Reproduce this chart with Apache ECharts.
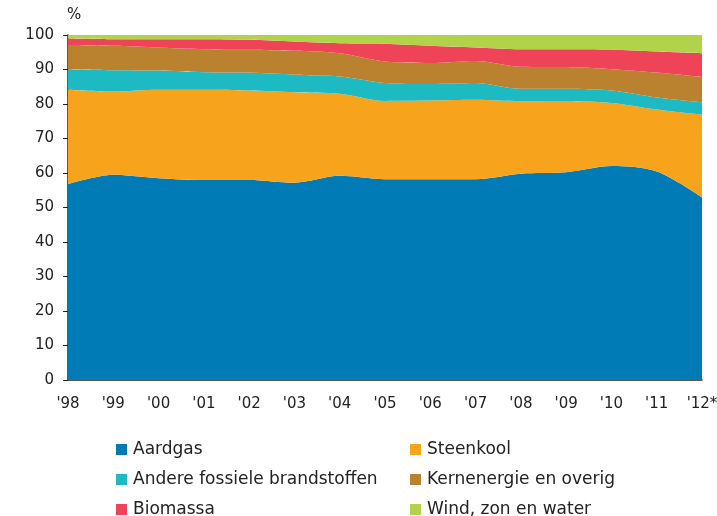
<!DOCTYPE html>
<html>
<head>
<meta charset="utf-8">
<script src="https://cdn.jsdelivr.net/npm/echarts@6/dist/echarts.min.js"></script>
<style>
    html, body { margin: 0; padding: 0; background: #fff; }
    #chart { width: 717px; height: 516px; }
</style>
</head>
<body>
<div id="chart"></div>
<script type="text/javascript">
    // jaren
    var years = ["'98", "'99", "'00", "'01", "'02", "'03", "'04", "'05", "'06", "'07", "'08", "'09", "'10", "'11", "'12*"];

    var aardgas = [56.8, 59.5, 58.5, 58.0, 58.0, 57.2, 59.2, 58.2, 58.2, 58.2, 59.8, 60.2, 62.0, 60.4, 52.9];
    var steenkool = [27.3, 24.1, 25.6, 26.1, 25.9, 26.2, 23.8, 22.7, 22.8, 23.0, 21.0, 20.7, 18.3, 18.0, 24.0];
    var andereFossiel = [6.0, 6.2, 5.6, 5.1, 5.2, 5.1, 5.0, 5.2, 4.8, 4.9, 3.6, 3.5, 3.6, 3.5, 3.6];
    var kernenergie = [7.0, 7.1, 6.7, 6.7, 6.6, 6.9, 6.7, 6.2, 6.1, 6.4, 6.4, 6.3, 6.2, 7.2, 7.3];
    var biomassa = [1.9, 1.9, 2.4, 2.9, 2.9, 2.7, 2.9, 5.2, 5.0, 3.9, 5.1, 5.2, 5.7, 6.1, 6.9];
    var windZonWater = [1.0, 1.2, 1.2, 1.2, 1.4, 1.9, 2.4, 2.5, 3.1, 3.6, 4.1, 4.1, 4.2, 4.8, 5.3];

    var names = ['Aardgas', 'Steenkool', 'Andere fossiele brandstoffen', 'Kernenergie en overig', 'Biomassa', 'Wind, zon en water'];
    var colors = ['#007bb6', '#f7a41c', '#1ebac4', '#ba822e', '#ef4458', '#b0d349'];
    var values = [aardgas, steenkool, andereFossiel, kernenergie, biomassa, windZonWater];

    var font = 'DejaVu Sans, sans-serif';

    var chart = echarts.init(document.getElementById('chart'));

    var series = [];
    var legends = [];
    for (var i = 0; i < names.length; i++) {
        series.push({
            name: names[i],
            type: 'line',
            stack: 'totaal',
            data: values[i],
            smooth: 0.3,
            showSymbol: false,
            lineStyle: {width: 0},
            areaStyle: {color: colors[i], opacity: 1},
            itemStyle: {color: colors[i]}
        });
        // legenda: twee kolommen, drie rijen
        legends.push({
            left: i % 2 === 0 ? 111 : 405,
            top: 436 + Math.floor(i / 2) * 30,
            itemWidth: 11, itemHeight: 11,
            icon: 'rect',
            selectedMode: false,
            textStyle: {fontFamily: font, fontSize: 17, color: '#222', padding: [0, 0, 0, 1]},
            data: [names[i]]
        });
    }

    chart.setOption({
        animation: false,
        grid: {left: 68, right: 15, top: 35, bottom: 136, outerBoundsMode: 'none'},
        legend: legends,
        graphic: [{
            type: 'text',
            left: 67, top: 8,
            style: {text: '%', font: '15px ' + font, fill: '#222'}
        }],
        xAxis: {
            type: 'category',
            boundaryGap: false,
            data: years,
            axisLine: {lineStyle: {color: '#222', width: 1.5}},
            axisTick: {show: false},
            axisLabel: {fontFamily: font, fontSize: 15, color: '#222', margin: 17}
        },
        yAxis: {
            type: 'value',
            min: 0, max: 100, interval: 10,
            splitLine: {show: false},
            axisLine: {show: true, lineStyle: {color: '#222', width: 1.5}},
            axisTick: {show: true, length: 5, lineStyle: {color: '#222'}},
            axisLabel: {fontFamily: font, fontSize: 15, color: '#222', margin: 14}
        },
        series: series
    });
</script>
</body>
</html>
